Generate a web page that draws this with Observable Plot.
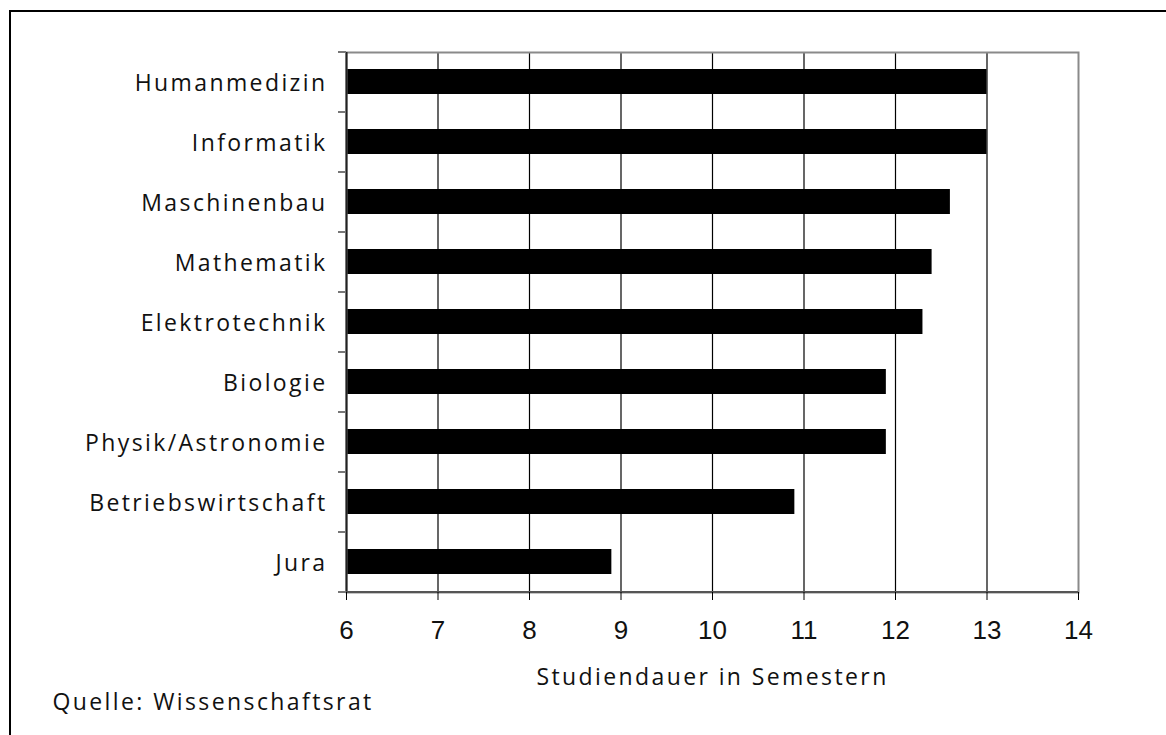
<!DOCTYPE html>
<html>
<head>
<meta charset="utf-8">
<script src="https://cdn.jsdelivr.net/npm/d3@7"></script>
<script src="https://cdn.jsdelivr.net/npm/@observablehq/plot@0.6"></script>
<style>
  html, body { margin: 0; padding: 0; background: #fff; }
  #wrap { position: relative; width: 1166px; height: 735px; overflow: hidden; }
  #border { position: absolute; left: 9px; top: 10px; right: -5px; bottom: -5px;
            border-left: 2px solid #000; border-top: 2px solid #000; pointer-events: none; }
  #chart { position: absolute; left: 0; top: 0; }
  g[aria-label="y-axis tick label"] text, g.lbl text { letter-spacing: 2.4px; }
</style>
</head>
<body>
<div id="wrap"><div id="chart"></div><div id="border"></div></div>
<script>
const subjects = ["Humanmedizin", "Informatik", "Maschinenbau", "Mathematik", "Elektrotechnik",
                  "Biologie", "Physik/Astronomie", "Betriebswirtschaft", "Jura"];
const semesters = [13.0, 13.0, 12.6, 12.4, 12.3, 11.9, 11.9, 10.9, 8.9];
const xTicks = [6, 7, 8, 9, 10, 11, 12, 13, 14];
const gridTicks = [7, 8, 9, 10, 11, 12, 13];
const xLabel = "Studiendauer in Semestern";
const sourceNote = "Quelle: Wissenschaftsrat";

const data = subjects.map((s, i) => ({subject: s, value: semesters[i]}));
const textFont = "'Open Sans', 'DejaVu Sans', sans-serif";

const chart = Plot.plot({
  width: 1166,
  height: 735,
  marginLeft: 346,
  marginRight: 88,
  marginTop: 52,
  marginBottom: 143,
  style: {background: "transparent", color: "#000"},
  x: {domain: [6, 14], axis: null},
  y: {domain: subjects, paddingInner: 0.58, paddingOuter: 0.29, axis: null},
  marks: [
    Plot.ruleX(gridTicks, {stroke: "#000", strokeWidth: 1.2}),
    Plot.barX(data, {x1: 6, x2: "value", y: "subject", fill: "#000"}),
    Plot.frame({stroke: "#8a8a8a", strokeWidth: 2}),
    Plot.ruleX([6], {stroke: "#222", strokeWidth: 2}),
    Plot.ruleY([0], {y: () => subjects[subjects.length - 1], dy: 30, stroke: "#555", strokeWidth: 2}),
    // y tick marks at band boundaries
    Plot.axisY(subjects, {anchor: "left", tickSize: 8, text: null, dy: -30, stroke: "#777", strokeWidth: 2, label: null}),
    Plot.axisY([subjects[subjects.length - 1]], {anchor: "left", tickSize: 8, text: null, dy: 30, stroke: "#777", strokeWidth: 2, label: null}),
    // y category labels
    Plot.axisY(subjects, {anchor: "left", tickSize: 0, tickPadding: 19, dy: 2, fontSize: 23, fontFamily: textFont, fill: "#111", label: null}),
    // x axis
    Plot.axisX(xTicks, {anchor: "bottom", tickSize: 8, tickPadding: 20, fontSize: 26,
                        fontFamily: "'Liberation Sans', Arial, sans-serif", fill: "#111", label: null}),
    Plot.text([xLabel], {frameAnchor: "bottom", dy: 92, fontSize: 23, fontFamily: textFont, fill: "#111", className: "lbl"}),
    Plot.text([sourceNote], {frameAnchor: "bottom-left", dx: -294, dy: 117, textAnchor: "start", fontSize: 23, fontFamily: textFont, fill: "#111", className: "lbl"})
  ]
});
document.getElementById("chart").appendChild(chart);
</script>
</body>
</html>
